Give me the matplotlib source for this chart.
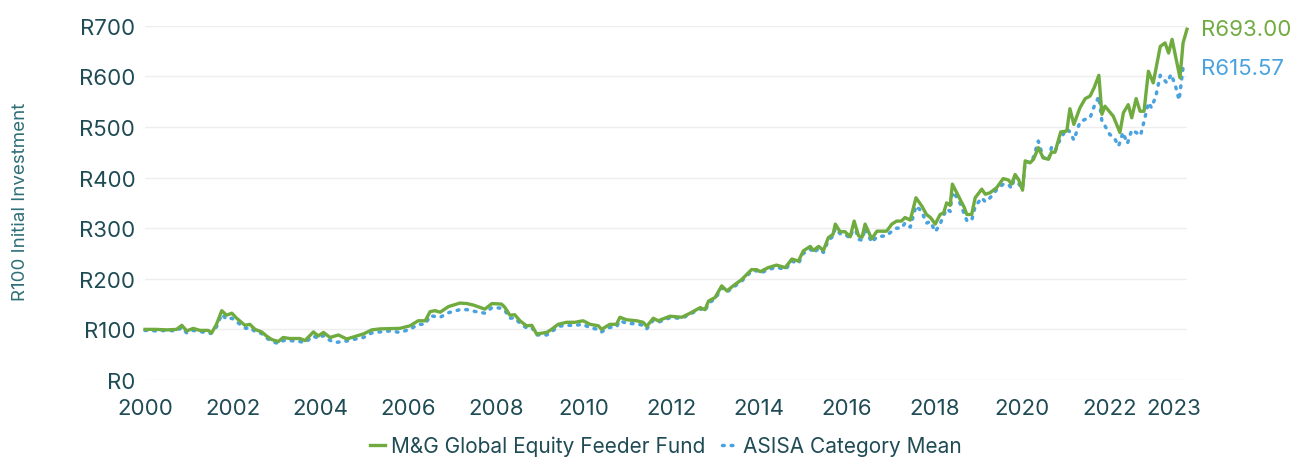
import matplotlib
matplotlib.use("Agg")
import matplotlib.pyplot as plt

# Growth of R100 (decimal year, value)
fund_t = [2000.00, 2000.25, 2000.50, 2000.72, 2000.84, 2000.95, 2001.10, 2001.25, 2001.44, 2001.52,
          2001.63, 2001.75, 2001.86, 2001.98, 2002.09, 2002.20, 2002.28, 2002.39, 2002.51, 2002.66,
          2002.77, 2002.89, 2003.04, 2003.15, 2003.30, 2003.53, 2003.65, 2003.84, 2003.95, 2004.07,
          2004.22, 2004.41, 2004.60, 2004.75, 2004.98, 2005.17, 2005.36, 2005.81, 2006.04, 2006.23,
          2006.39, 2006.50, 2006.61, 2006.73, 2006.92, 2007.18, 2007.34, 2007.49, 2007.75, 2007.91,
          2008.13, 2008.21, 2008.32, 2008.43, 2008.55, 2008.70, 2008.82, 2008.93, 2009.16, 2009.27,
          2009.42, 2009.61, 2009.80, 2009.99, 2010.15, 2010.34, 2010.41, 2010.60, 2010.75, 2010.83,
          2010.98, 2011.21, 2011.36, 2011.44, 2011.59, 2011.70, 2011.97, 2012.24, 2012.43, 2012.66,
          2012.77, 2012.85, 2013.00, 2013.15, 2013.27, 2013.41, 2013.60, 2013.83, 2013.95, 2014.03,
          2014.21, 2014.40, 2014.60, 2014.75, 2014.90, 2015.01, 2015.17, 2015.24, 2015.36, 2015.47,
          2015.58, 2015.69, 2015.74, 2015.85, 2015.96, 2016.08, 2016.17, 2016.27, 2016.35, 2016.42,
          2016.57, 2016.69, 2016.91, 2017.03, 2017.14, 2017.25, 2017.33, 2017.45, 2017.58, 2017.71,
          2017.82, 2017.91, 2018.02, 2018.13, 2018.21, 2018.28, 2018.36, 2018.41, 2018.55, 2018.68,
          2018.74, 2018.85, 2018.93, 2019.08, 2019.16, 2019.27, 2019.42, 2019.57, 2019.69, 2019.76,
          2019.84, 2019.92, 2020.01, 2020.07, 2020.18, 2020.26, 2020.37, 2020.48, 2020.60, 2020.67,
          2020.75, 2020.88, 2021.02, 2021.09, 2021.18, 2021.32, 2021.44, 2021.55, 2021.64, 2021.75,
          2021.82, 2021.89, 2022.08, 2022.23, 2022.31, 2022.42, 2022.50, 2022.60, 2022.69, 2022.78,
          2022.88, 2022.99, 2023.15, 2023.26, 2023.34, 2023.42, 2023.60, 2023.67, 2023.76]
fund_v = [100, 100, 99, 100, 108, 97, 102, 98, 98, 93,
          110, 137, 128, 132, 122, 114, 108, 110, 100, 95,
          87, 80, 76, 84, 82, 82, 78, 95, 87, 94,
          84, 89, 81, 85, 91, 99, 101, 102, 107, 117,
          117, 135, 137, 134, 145, 152, 151, 148, 140, 151,
          150, 143, 128, 129, 117, 107, 108, 91, 94, 100,
          110, 114, 114, 117, 110, 107, 100, 110, 110, 124,
          119, 117, 114, 106, 122, 117, 126, 124, 132, 143,
          139, 156, 163, 186, 176, 186, 198, 218, 218, 214,
          222, 227, 222, 239, 235, 255, 264, 256, 264, 256,
          281, 288, 308, 293, 293, 283, 314, 285, 282, 308,
          279, 294, 294, 308, 314, 314, 321, 316, 360, 344,
          327, 321, 308, 327, 330, 350, 345, 387, 363, 341,
          327, 327, 360, 377, 367, 370, 380, 398, 395, 387,
          406, 396, 375, 433, 429, 436, 459, 439, 436, 450,
          450, 490, 492, 536, 505, 538, 556, 561, 577, 602,
          525, 541, 521, 489, 528, 544, 518, 556, 531, 531,
          610, 587, 659, 666, 646, 673, 597, 666, 693.00]

mean_t = [2000.00, 2000.25, 2000.50, 2000.72, 2000.84, 2000.95, 2001.10, 2001.30, 2001.50, 2001.63,
          2001.75, 2001.86, 2001.98, 2002.09, 2002.20, 2002.30, 2002.40, 2002.50, 2002.66, 2002.77,
          2002.90, 2003.04, 2003.15, 2003.30, 2003.53, 2003.65, 2003.84, 2003.95, 2004.07, 2004.18,
          2004.33, 2004.60, 2004.75, 2004.98, 2005.17, 2005.36, 2005.60, 2005.81, 2006.04, 2006.23,
          2006.39, 2006.50, 2006.73, 2006.92, 2007.18, 2007.34, 2007.49, 2007.75, 2007.91, 2008.13,
          2008.21, 2008.32, 2008.43, 2008.55, 2008.70, 2008.82, 2008.93, 2009.16, 2009.27, 2009.42,
          2009.61, 2009.80, 2009.99, 2010.15, 2010.34, 2010.41, 2010.60, 2010.75, 2010.83, 2010.98,
          2011.21, 2011.36, 2011.44, 2011.59, 2011.70, 2011.97, 2012.24, 2012.43, 2012.66, 2012.77,
          2012.85, 2013.00, 2013.15, 2013.27, 2013.41, 2013.60, 2013.83, 2013.95, 2014.03, 2014.21,
          2014.40, 2014.60, 2014.75, 2014.90, 2015.01, 2015.17, 2015.24, 2015.36, 2015.47, 2015.58,
          2015.69, 2015.74, 2015.85, 2015.96, 2016.08, 2016.17, 2016.27, 2016.35, 2016.42, 2016.57,
          2016.69, 2016.91, 2017.03, 2017.14, 2017.25, 2017.33, 2017.45, 2017.58, 2017.71, 2017.82,
          2017.91, 2018.02, 2018.13, 2018.21, 2018.28, 2018.36, 2018.41, 2018.55, 2018.68, 2018.74,
          2018.85, 2018.93, 2019.08, 2019.16, 2019.27, 2019.42, 2019.57, 2019.69, 2019.76, 2019.84,
          2019.92, 2020.01, 2020.07, 2020.18, 2020.26, 2020.37, 2020.48, 2020.60, 2020.67, 2020.75,
          2020.88, 2021.02, 2021.09, 2021.18, 2021.32, 2021.44, 2021.55, 2021.64, 2021.75, 2021.82,
          2021.89, 2022.00, 2022.10, 2022.20, 2022.30, 2022.40, 2022.50, 2022.60, 2022.70, 2022.80,
          2022.88, 2022.95, 2023.05, 2023.15, 2023.30, 2023.40, 2023.50, 2023.58, 2023.67, 2023.76]
mean_v = [98, 97, 98, 97, 104, 93, 98, 95, 92, 105,
          130, 120, 122, 115, 108, 102, 104, 96, 92, 83,
          76, 72, 78, 78, 76, 74, 87, 82, 88, 80,
          74, 77, 80, 84, 93, 95, 97, 94, 100, 110,
          110, 127, 124, 133, 139, 139, 136, 132, 143, 142,
          137, 122, 123, 112, 103, 104, 89, 89, 95, 106,
          108, 108, 110, 103, 100, 95, 104, 105, 117, 112,
          111, 108, 101, 118, 114, 123, 122, 130, 141, 136,
          152, 160, 182, 174, 183, 195, 215, 216, 211, 218,
          223, 218, 235, 230, 250, 259, 251, 260, 252, 276,
          284, 300, 289, 288, 280, 307, 278, 276, 300, 272,
          283, 285, 294, 300, 300, 310, 302, 344, 333, 310,
          313, 293, 308, 325, 338, 333, 372, 357, 328, 315,
          315, 343, 360, 352, 360, 376, 387, 386, 379, 404,
          388, 378, 432, 430, 440, 472, 440, 434, 460, 452,
          478, 496, 490, 474, 510, 515, 518, 540, 560, 511,
          502, 485, 479, 462, 489, 467, 494, 489, 483, 518,
          548, 538, 561, 602, 587, 604, 580, 553, 617, 615.57]

fund_name = "M&G Global Equity Feeder Fund"
mean_name = "ASISA Category Mean"
year_ticks = [2000, 2002, 2004, 2006, 2008, 2010, 2012, 2014, 2016, 2018, 2020, 2022, 2023.45]
year_labels = ["2000", "2002", "2004", "2006", "2008", "2010", "2012", "2014", "2016", "2018",
               "2020", "2022", "2023"]
value_ticks = [0, 100, 200, 300, 400, 500, 600, 700]

GREEN = "#6fab3e"
BLUE = "#4aa3df"
TEXT = "#1f4b55"

plt.rcParams['font.family'] = ['Inter', 'DejaVu Sans']

fig = plt.figure(figsize=(13, 4.6), dpi=100)
ax = fig.add_axes([145 / 1300, 1 - 381 / 460, (1187 - 145) / 1300, (381 - 26.7) / 460])

ax.plot(mean_t, mean_v, color=BLUE, lw=2.5, linestyle=(0, (0.5, 2.0)),
        dash_capstyle="round", label=mean_name, clip_on=False, zorder=3)
ax.plot(fund_t, fund_v, color=GREEN, lw=2.4, label=fund_name, clip_on=False, zorder=4)

ax.set_xlim(2000, 2023.76)
ax.set_ylim(0, 700)
ax.set_xticks(year_ticks)
ax.set_xticklabels(year_labels)
ax.set_yticks(value_ticks)
ax.set_yticklabels([f"R{v}" for v in value_ticks])
ax.tick_params(axis="both", length=0, labelsize=16, labelcolor=TEXT)
ax.tick_params(axis="x", pad=13)
ax.tick_params(axis="y", pad=7)
ax.grid(axis="y", color="#eeeeee", lw=1)
ax.set_axisbelow(True)
for s in ax.spines.values():
    s.set_visible(False)

fig.text(0.016, 1 - 202 / 460, "R100 Initial Investment", rotation=90, ha="center",
         va="center", fontsize=13.5, color="#2f6f78")

# end-value labels
ax.annotate(f"R{fund_v[-1]:.2f}", xy=(fund_t[-1], fund_v[-1]), xytext=(10, 0),
            textcoords="offset points", va="center", ha="left", fontsize=16,
            color=GREEN, annotation_clip=False)
ax.annotate(f"R{mean_v[-1]:.2f}", xy=(mean_t[-1], mean_v[-1]), xytext=(10, 0),
            textcoords="offset points", va="center", ha="left", fontsize=16,
            color=BLUE, annotation_clip=False)

handles, labels = ax.get_legend_handles_labels()
leg = fig.legend(handles[::-1], labels[::-1], loc="center", ncol=2,
                 bbox_to_anchor=(666 / 1300, 1 - 447 / 460), frameon=False,
                 fontsize=15, handlelength=0.7, handletextpad=0.3, columnspacing=0.8)
for t in leg.get_texts():
    t.set_color(TEXT)

fig.savefig("out.png", dpi=100)
